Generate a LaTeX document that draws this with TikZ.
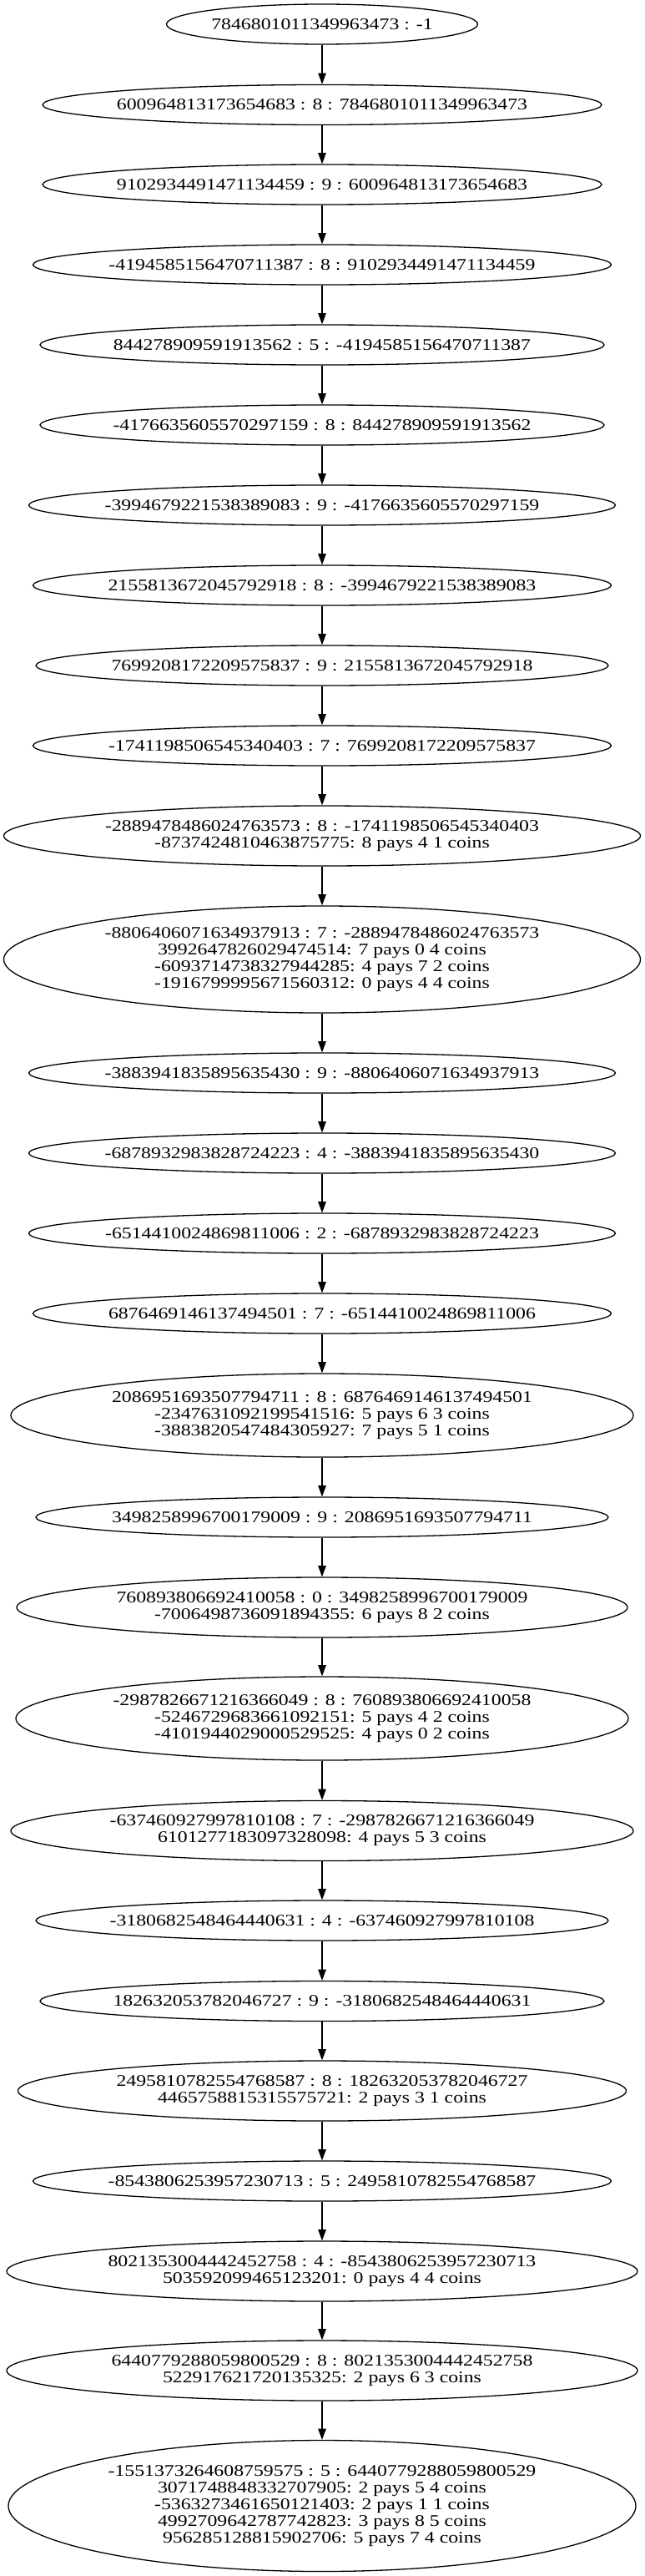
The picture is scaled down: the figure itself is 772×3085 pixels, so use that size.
\documentclass[tikz,border=0pt]{standalone}
\usepackage{fontspec}
\newfontfamily\gvfont{Liberation Serif}[FakeStretch=1.22]
\usetikzlibrary{shapes.geometric,arrows.meta}
\tikzset{
  gvell/.style={draw=black, line width=1.3pt, shape=ellipse, inner sep=0pt},
  gvtxt/.style={inner sep=0pt, align=center, font=\gvfont\fontsize{19.5}{20}\selectfont},
  gvarrow/.style={draw=black, line width=1.3pt, -{Triangle[length=13.3pt, width=9.5pt]}}
}
\newcommand{\gvn}[5]{%
  \node[gvell, minimum width=#3pt, minimum height=#4pt] (n#1) at (386,-#2) {};
  \node[gvtxt] (t#1) at (n#1.center) {#5};}
\begin{document}
\begin{tikzpicture}[x=1pt,y=1pt]
\fill[white] (0,0) rectangle (772,-3085);
\useasboundingbox (0,0) rectangle (772,-3085);
\gvn{1}{29}{373}{48}{7846801011349963473 : -1}
\gvn{2}{125.5}{670}{48}{600964813173654683 : 8 : 7846801011349963473}
\gvn{3}{221}{670}{48}{9102934491471134459 : 9 : 600964813173654683}
\gvn{4}{317}{693}{48}{-4194585156470711387 : 8 : 9102934491471134459}
\gvn{5}{413}{676}{48}{844278909591913562 : 5 : -4194585156470711387}
\gvn{6}{509}{676}{48}{-4176635605570297159 : 8 : 844278909591913562}
\gvn{7}{605}{703}{48}{-3994679221538389083 : 9 : -4176635605570297159}
\gvn{8}{701}{693}{48}{2155813672045792918 : 8 : -3994679221538389083}
\gvn{9}{797}{686}{48}{7699208172209575837 : 9 : 2155813672045792918}
\gvn{10}{893}{693}{48}{-1741198506545340403 : 7 : 7699208172209575837}
\gvn{11}{1001}{763}{72}{-2889478486024763573 : 8 : -1741198506545340403\\-8737424810463875775: 8 pays 4 1 coins}
\gvn{12}{1149}{763}{128}{-8806406071634937913 : 7 : -2889478486024763573\\3992647826029474514: 7 pays 0 4 coins\\-6093714738327944285: 4 pays 7 2 coins\\-1916799995671560312: 0 pays 4 4 coins}
\gvn{13}{1285}{703}{48}{-3883941835895635430 : 9 : -8806406071634937913}
\gvn{14}{1381}{703}{48}{-6878932983828724223 : 4 : -3883941835895635430}
\gvn{15}{1477}{703}{48}{-6514410024869811006 : 2 : -6878932983828724223}
\gvn{16}{1573}{693}{48}{6876469146137494501 : 7 : -6514410024869811006}
\gvn{17}{1695}{746}{100}{2086951693507794711 : 8 : 6876469146137494501\\-2347631092199541516: 5 pays 6 3 coins\\-3883820547484305927: 7 pays 5 1 coins}
\gvn{18}{1817}{686}{48}{3498258996700179009 : 9 : 2086951693507794711}
\gvn{19}{1925}{732}{72}{760893806692410058 : 0 : 3498258996700179009\\-7006498736091894355: 6 pays 8 2 coins}
\gvn{20}{2058}{734}{100}{-2987826671216366049 : 8 : 760893806692410058\\-5246729683661092151: 5 pays 4 2 coins\\-4101944029000529525: 4 pays 0 2 coins}
\gvn{21}{2192.5}{746}{72}{-637460927997810108 : 7 : -2987826671216366049\\6101277183097328098: 4 pays 5 3 coins}
\gvn{22}{2300}{686}{48}{-3180682548464440631 : 4 : -637460927997810108}
\gvn{23}{2396.5}{676}{48}{182632053782046727 : 9 : -3180682548464440631}
\gvn{24}{2504}{729}{72}{2495810782554768587 : 8 : 182632053782046727\\4465758815315575721: 2 pays 3 1 coins}
\gvn{25}{2612}{693}{48}{-8543806253957230713 : 5 : 2495810782554768587}
\gvn{26}{2720}{756}{72}{8021353004442452758 : 4 : -8543806253957230713\\503592099465123201: 0 pays 4 4 coins}
\gvn{27}{2839}{756}{72}{6440779288059800529 : 8 : 8021353004442452758\\522917621720135325: 2 pays 6 3 coins}
\gvn{28}{3001}{752}{157}{-1551373264608759575 : 5 : 6440779288059800529\\3071748848332707905: 2 pays 5 4 coins\\-5363273461650121403: 2 pays 1 1 coins\\4992709642787742823: 3 pays 8 5 coins\\956285128815902706: 5 pays 7 4 coins}
\foreach \a [count=\b from 2] in {1,...,27} {
  \draw[gvarrow] (n\a) -- (n\b);
}
\end{tikzpicture}
\end{document}
